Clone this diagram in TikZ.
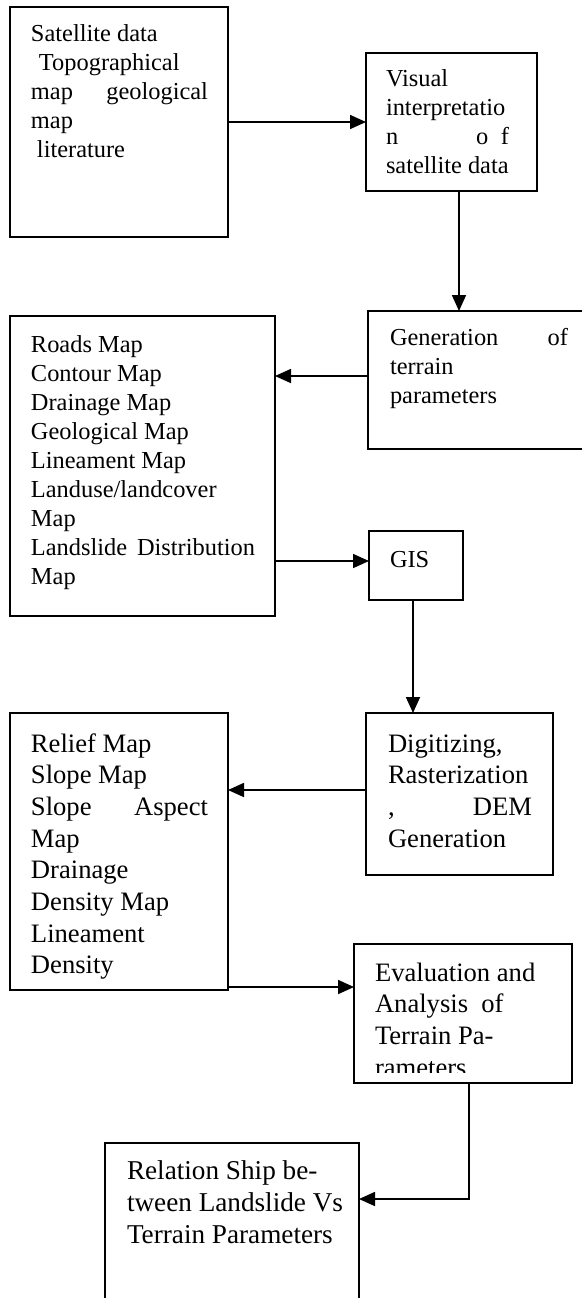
\documentclass[tikz,border=0pt]{standalone}
\usepackage{fontspec}
\setmainfont{Liberation Serif}
\usetikzlibrary{arrows.meta}
\newcommand\smallfnt{\fontsize{12.2}{14.5}\selectfont}
\newcommand\bigfnt{\fontsize{13.3}{15.85}\selectfont}
\newcommand\biggerfnt{\fontsize{13.6}{16}\selectfont}
\begin{document}
\begin{tikzpicture}[x=0.5pt,y=-0.5pt,
  box/.style={draw,line width=0.75pt,inner sep=0pt,outer sep=0pt,anchor=north west},
  txt/.style={inner sep=0pt,outer sep=0pt,anchor=base west},
  arr/.style={line width=0.85pt,-{Triangle[length=8pt,width=7pt]}}]
\useasboundingbox (0,0) rectangle (582,1298);
\clip (0,0) rectangle (582,1298);

% boxes
\node[box,minimum width=109pt,minimum height=115pt] (b1) at (10,7) {};
\node[box,minimum width=85.5pt,minimum height=69pt] (b2) at (366,53) {};
\node[box,minimum width=110pt,minimum height=69pt] (b3) at (368,311) {};
\node[box,minimum width=132.5pt,minimum height=150pt] (b4) at (10,316) {};
\node[box,minimum width=47pt,minimum height=34.5pt] (b5) at (369,531) {};
\node[box,minimum width=93.5pt,minimum height=81pt] (b6) at (366,713) {};
\node[box,minimum width=109pt,minimum height=138.5pt] (b7) at (10,713) {};
\node[box,minimum width=109pt,minimum height=69.5pt] (b8) at (354,944) {};
\node[box,minimum width=127pt,minimum height=100pt] (b9) at (105,1143) {};

% texts
\node[txt] (t1) at (31,41) {\smallfnt\parbox[t]{120pt}{Satellite data\\
  \hspace*{4pt}Topographical\\
  \makebox[88.5pt][l]{map\hfill geological}\\
  map\\
  \hspace*{3pt}literature}};
\node[txt] (t2) at (386,86) {\smallfnt\parbox[t]{80pt}{Visual\\
  interpretatio\\
  \makebox[45pt][l]{n}\makebox[12.5pt][l]{o}f\\
  satellite data}};
\node[txt] (t3) at (390,345) {\smallfnt\parbox[t]{100pt}{\makebox[89pt][l]{Generation\hfill of}\\
  terrain\\
  parameters}};
\node[txt] (t4) at (31,352) {\smallfnt\parbox[t]{125pt}{Roads Map\\
  Contour Map\\
  Drainage Map\\
  Geological Map\\
  Lineament Map\\
  Landuse/landcover\\
  Map\\
  \makebox[112pt][l]{Landslide\hfill Distribution}\\
  Map}};
\node[txt] (t5) at (390,567) {\smallfnt GIS};
\node[txt] (t6) at (388,752) {\bigfnt\parbox[t]{90pt}{Digitizing,\\
  Rasterization\\
  \makebox[72pt][l]{,\hfill DEM}\\
  Generation}};
\node[txt] (t7) at (31,752) {\bigfnt\parbox[t]{100pt}{Relief Map\\
  Slope Map\\
  \makebox[88.5pt][l]{Slope\hfill Aspect}\\
  Map\\
  Drainage\\
  Density Map\\
  Lineament\\
  Density}};
\begin{scope}
\clip (354,944) rectangle (572,1072);
\node[txt] (t8) at (375,981) {\bigfnt\parbox[t]{100pt}{Evaluation and\\
  Analysis~~of\\
  Terrain Pa-\\
  rameters}};
\end{scope}
\node[txt] (t9) at (127,1179) {\biggerfnt\parbox[t]{120pt}{Relation Ship be-\\
  tween Landslide Vs\\
  Terrain Parameters}};

% connectors
\draw[arr] (b1.east) -- (b2.west);
\draw[arr] (b2.south -| 459,0) -- (b3.north -| 459,0);
\draw[arr] (b3.west |- 0,376) -- (b4.east |- 0,376);
\draw[arr] (b4.east |- 0,561) -- (b5.west |- 0,561);
\draw[arr] (b5.south -| 413,0) -- (b6.north -| 413,0);
\draw[arr] (b6.west |- 0,790) -- (b7.east |- 0,790);
\draw[arr] (b7.east |- 0,987) -- (b8.west |- 0,987);
\draw[arr] (b8.south -| 469,0) |- (b9.east |- 0,1199);
\end{tikzpicture}
\end{document}
